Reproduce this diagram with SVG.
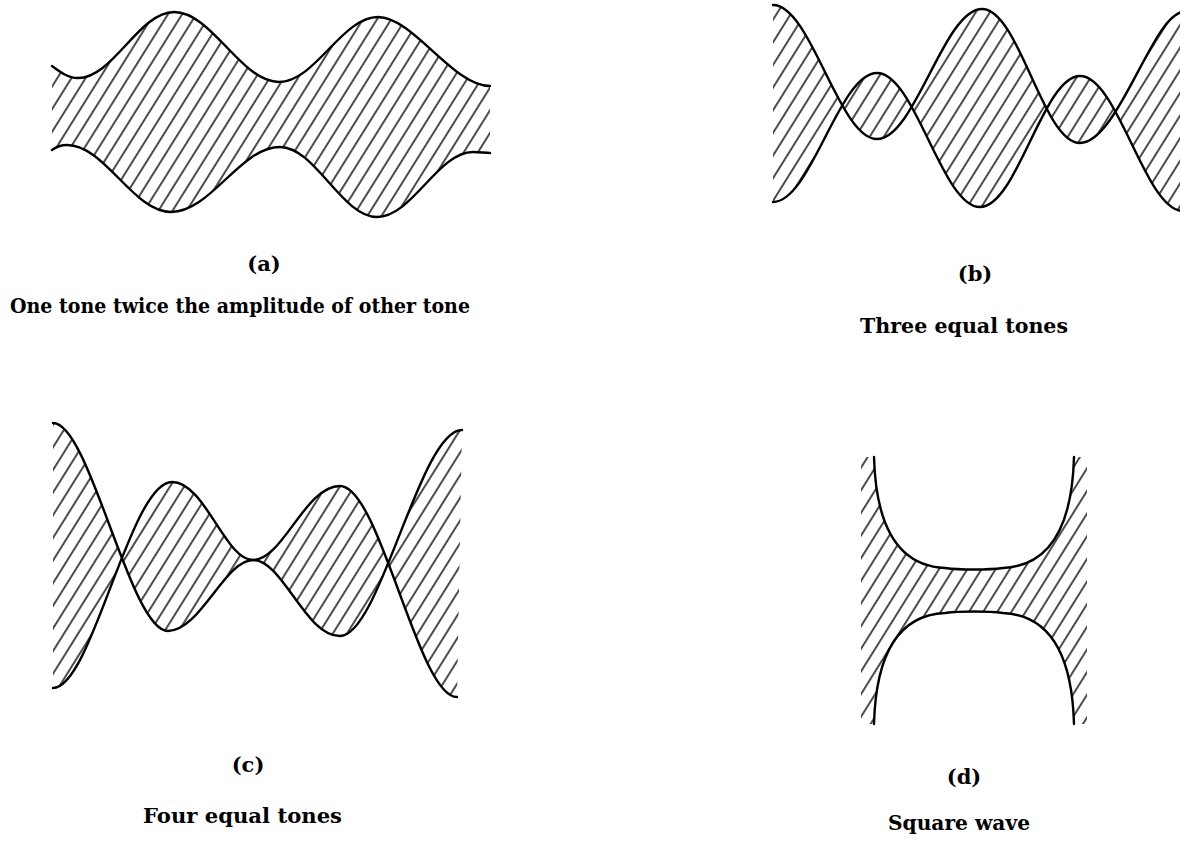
<svg xmlns="http://www.w3.org/2000/svg" width="1180" height="841" viewBox="0 0 1180 841">
<style>
.curve{fill:none;stroke:#000;stroke-width:2.4;stroke-linecap:round;stroke-linejoin:round}
.hatch{fill:url(#hatch);stroke:none}
.lbl{font-family:"DejaVu Serif","Liberation Serif",serif;font-weight:bold;font-size:21px;fill:#000}
</style>
<defs>
<pattern id="hatch" patternUnits="userSpaceOnUse" width="12" height="12" patternTransform="rotate(32)">
<line x1="6" y1="-1" x2="6" y2="13" stroke="#000" stroke-width="1.4"/>
</pattern>
<clipPath id="clipA"><path d="M52,66 C60,72 68,78 78,78 C113,78 139,12 174,12 C212,12 241,82 279,82 C315,82 342,17 378,17 C413,17 453,86 490,86 L490,153 C485,153 480,152 473,152 C438,152 412,217 377,217 C342,217 315,147 280,147 C240,147 211,212 171,212 C133,212 105,145 67,145 C61,145 56,147 52,150 Z"/></clipPath>
<clipPath id="clipB"><path d="M773,5 C811,5 839,139 877,139 C915,139 944,9 982,9 C1019,9 1043,143 1080,143 C1118,143 1153,14 1183,12 L1183,211 C1145,211 1118,76 1080,76 C1043,76 1017,207 980,207 C942,207 915,73 877,73 C839,73 811,202 773,202 Z"/></clipPath>
<clipPath id="clipC"><path d="M53,423 C90,423 130,631 168,631 C200,631 225,560 253,560 C283,560 305,636 340,636 C380,636 420,430 462,430 L457,697 C418,697 380,486 340,486 C305,486 283,560 253,560 C225,560 205,482 172,482 C130,482 92,688 53,688 Z"/></clipPath>
<clipPath id="clipD"><path clip-rule="evenodd" d="M861,457 H1087 V724 H861 Z M874,457 C876,530 900,566 945,568 C960,570 988,570 1003,568 C1048,566 1072,530 1074,457 Z M874,724 C876,651 900,615 945,613 C960,611 988,611 1003,613 C1048,615 1072,651 1074,724 Z"/></clipPath>
</defs>

<g id="panel-a">
<rect class="hatch" x="40" y="0" width="460" height="230" clip-path="url(#clipA)"/>
<path class="curve" d="M52,66 C60,72 68,78 78,78 C113,78 139,12 174,12 C212,12 241,82 279,82 C315,82 342,17 378,17 C413,17 453,86 490,86"/>
<path class="curve" d="M52,150 C56,147 61,145 67,145 C105,145 133,212 171,212 C211,212 240,147 280,147 C315,147 342,217 377,217 C412,217 438,152 473,152 C480,152 485,153 490,153"/>
<text class="lbl" x="264" y="271" text-anchor="middle">(a)</text>
<text class="lbl" x="10" y="313" textLength="460" lengthAdjust="spacingAndGlyphs">One tone twice the amplitude of other tone</text>
</g>

<g id="panel-b">
<rect class="hatch" x="760" y="0" width="420" height="230" clip-path="url(#clipB)"/>
<path class="curve" d="M773,5 C811,5 839,139 877,139 C915,139 944,9 982,9 C1019,9 1043,143 1080,143 C1118,143 1153,14 1183,12"/>
<path class="curve" d="M773,202 C811,202 839,73 877,73 C915,73 942,207 980,207 C1017,207 1043,76 1080,76 C1118,76 1145,211 1183,211"/>
<text class="lbl" x="975" y="281" text-anchor="middle">(b)</text>
<text class="lbl" x="860" y="333" textLength="208" lengthAdjust="spacingAndGlyphs">Three equal tones</text>
</g>

<g id="panel-c">
<rect class="hatch" x="40" y="410" width="440" height="300" clip-path="url(#clipC)"/>
<path class="curve" d="M53,423 C90,423 130,631 168,631 C200,631 225,560 253,560 C283,560 305,636 340,636 C380,636 420,430 462,430"/>
<path class="curve" d="M53,688 C92,688 130,482 172,482 C205,482 225,560 253,560 C283,560 305,486 340,486 C380,486 418,697 457,697"/>
<text class="lbl" x="248" y="772" text-anchor="middle">(c)</text>
<text class="lbl" x="143" y="823" textLength="199" lengthAdjust="spacingAndGlyphs">Four equal tones</text>
</g>

<g id="panel-d">
<rect class="hatch" x="850" y="440" width="250" height="300" clip-path="url(#clipD)"/>
<path class="curve" d="M874,457 C876,530 900,566 945,568 C960,570 988,570 1003,568 C1048,566 1072,530 1074,457"/>
<path class="curve" d="M874,724 C876,651 900,615 945,613 C960,611 988,611 1003,613 C1048,615 1072,651 1074,724"/>
<text class="lbl" x="964" y="784" text-anchor="middle">(d)</text>
<text class="lbl" x="888" y="830" textLength="142" lengthAdjust="spacingAndGlyphs">Square wave</text>
</g>
</svg>
